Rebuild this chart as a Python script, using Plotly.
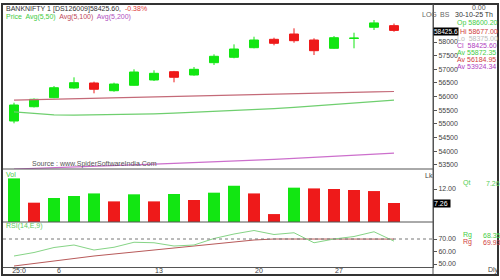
import plotly.graph_objects as go
from plotly.subplots import make_subplots

# ---------------- data ----------------
date_labels = ["25:0", "6", "13", "20", "27"]
date_label_idx = [0, 2, 7, 12, 16]

open_ = [55103, 55627, 55958, 56313, 56497, 56214, 56412, 56607, 56911, 56790,
         57241, 57439, 57791, 58099, 58293, 58073, 57769, 58130, 58540, 58600.2]
high = [55774, 55930, 56387, 56705, 56545, 56508, 56999, 56962, 56940, 57083,
        57549, 57914, 58194, 58158, 58502, 58136, 58220, 58341, 58807, 58677]
low = [55019, 55600, 55940, 56290, 56119, 56178, 56400, 56570, 56522, 56764,
       57157, 57402, 57769, 57879, 57974, 57523, 57750, 57769, 58440, 58375]
close = [55690, 55899, 56324, 56508, 56266, 56460, 56900, 56852, 56706, 56999,
         57476, 57743, 58073, 57952, 58048, 57681, 58158, 58142, 58700, 58425.6]

avg50 = [55440, 55380, 55330, 55320, 55325, 55335, 55345, 55365, 55390, 55420,
         55450, 55480, 55515, 55555, 55600, 55650, 55700, 55750, 55810, 55872.35]
avg100 = [55870, 55885, 55900, 55915, 55930, 55945, 55962, 55978, 55995, 56012,
          56030, 56047, 56065, 56083, 56100, 56117, 56134, 56151, 56168, 56184.95]
avg200 = [53340, 53370, 53400, 53425, 53450, 53475, 53500, 53525, 53550, 53575,
          53600, 53630, 53660, 53695, 53730, 53765, 53800, 53840, 53880, 53924.34]

volume = [15.6, 7.36, 8.95, 9.63, 10.5, 7.8, 10.2, 7.8, 10.3, 8.27,
          10.75, 13.1, 10.5, 3.5, 12.45, 12.2, 12.0, 11.66, 11.3, 7.26]

rsi = [56.4, 59.2, 63.2, 65.2, 61.2, 63.4, 67.4, 67.0, 64.4, 65.2,
       70.4, 74.0, 76.8, 73.6, 75.0, 67.0, 70.0, 72.0, 75.8, 68.3]
rsi_sig = [48.4, 50.4, 52.8, 54.8, 56.4, 58.0, 59.6, 61.2, 62.8, 64.0,
           66.0, 67.6, 69.2, 70.0, 70.0, 69.6, 69.6, 70.0, 70.0, 69.93]

price_ticks = [53500, 54000, 54500, 55000, 55500, 56000, 56500, 57000, 57500, 58000]

# ---------------- styling helpers ----------------
W, H = 500, 280
L, R, T, B = 3, 67, 5, 13
PW, PH = W - L - R, H - T - B


def px(xp):
    return (xp - L) / PW


def py(yp):
    return (H - B - yp) / PH


GREEN = "#12e612"
RED = "#ee1a1a"
FONT = "Liberation Sans, Arial, sans-serif"

x = list(range(len(close)))

fig = make_subplots(rows=3, cols=1, shared_xaxes=True, vertical_spacing=0)

fig.add_trace(go.Candlestick(
    x=x, open=open_, high=high, low=low, close=close,
    increasing=dict(line=dict(color=GREEN, width=1), fillcolor=GREEN),
    decreasing=dict(line=dict(color=RED, width=1), fillcolor=RED),
    whiskerwidth=0, showlegend=False, hoverinfo="skip"), row=1, col=1)

fig.add_trace(go.Scatter(x=x, y=avg100, mode="lines",
                         line=dict(color="#c46a78", width=1.2), showlegend=False), row=1, col=1)
fig.add_trace(go.Scatter(x=x, y=avg50, mode="lines",
                         line=dict(color="#6fcf6f", width=1.2), showlegend=False), row=1, col=1)
fig.add_trace(go.Scatter(x=x, y=avg200, mode="lines",
                         line=dict(color="#cc6fcc", width=1.2), showlegend=False), row=1, col=1)

vol_colors = [GREEN if (i == 0 or volume[i] > volume[i - 1]) else RED for i in range(len(volume))]
fig.add_trace(go.Bar(x=x, y=volume, marker=dict(color=vol_colors, line=dict(width=0)),
                     width=0.6, showlegend=False), row=2, col=1)

fig.add_trace(go.Scatter(x=x, y=rsi_sig, mode="lines",
                         line=dict(color="#b85a5a", width=1), showlegend=False), row=3, col=1)
fig.add_trace(go.Scatter(x=x, y=rsi, mode="lines",
                         line=dict(color="#86d486", width=1), showlegend=False), row=3, col=1)

axis_font = dict(family=FONT, size=7, color="#444")

fig.update_layout(
    width=W, height=H, margin=dict(l=L, r=R, t=T, b=B),
    paper_bgcolor="white", plot_bgcolor="white",
    font=dict(family=FONT, size=7, color="#444"),
    boxgap=0.36, bargap=0.4, showlegend=False,
)

xr = [-(14 - L) / 20, (L + PW - 14) / 20]
for r in (1, 2, 3):
    fig.update_xaxes(range=xr, showgrid=False, zeroline=False, showline=False,
                     rangeslider=dict(visible=False), row=r, col=1)
fig.update_xaxes(tickvals=[i + 0.25 for i in date_label_idx], ticktext=date_labels,
                 ticks="", tickfont=axis_font, showline=True, linecolor="#555",
                 linewidth=1, ticklabelstandoff=-3, row=3, col=1)

fig.update_layout(
    yaxis=dict(domain=[py(169), 1], range=[53343, 59357], side="right",
               tickvals=price_ticks, ticktext=[str(v) for v in price_ticks],
               ticks="outside", ticklen=3, tickcolor="#555", tickfont=axis_font,
               showgrid=False, zeroline=False, showline=True, linecolor="#555", linewidth=1),
    yaxis2=dict(domain=[py(222), py(169)], range=[0.81, 18.78], side="right",
                tickvals=[12], ticktext=["12.00"],
                ticks="outside", ticklen=3, tickcolor="#555", tickfont=axis_font,
                showgrid=False, zeroline=False, showline=True, linecolor="#555", linewidth=1),
    yaxis3=dict(domain=[0, py(222)], range=[47.6, 83.6], side="right",
                tickvals=[50, 60, 70], ticktext=["50.00", "60.00", "70.00"],
                ticks="outside", ticklen=3, tickcolor="#555", tickfont=axis_font,
                showgrid=False, zeroline=False, showline=True, linecolor="#555", linewidth=1),
)

shapes = [
    # outer frame
    dict(type="rect", xref="paper", yref="paper", x0=px(2), x1=px(498), y0=py(275), y1=py(4),
         line=dict(color="#333", width=2)),
    # panel separators
    dict(type="line", xref="paper", yref="paper", x0=0, x1=1, y0=py(169), y1=py(169),
         line=dict(color="#555", width=1)),
    dict(type="line", xref="paper", yref="paper", x0=0, x1=1, y0=py(222), y1=py(222),
         line=dict(color="#555", width=1)),
    dict(type="line", xref="paper", yref="paper", x0=1, x1=1, y0=py(274), y1=py(4),
         line=dict(color="#555", width=1)),
    # RSI 70 reference
    dict(type="line", xref="paper", yref="y3", x0=0, x1=1, y0=70, y1=70,
         line=dict(color="#777", width=1, dash="dot")),
]
fig.update_layout(shapes=shapes)

ann = []


def text(xp, yp, s, color="#444", size=7, anchor="left", bg=None):
    d = dict(xref="paper", yref="paper", x=px(xp), y=py(yp), text=s, showarrow=False,
             xanchor=anchor, yanchor="middle", font=dict(family=FONT, size=size, color=color))
    if bg:
        d["bgcolor"] = bg
        d["borderpad"] = 0
    ann.append(d)


text(4, 9, "BANKNIFTY 1 [DS126009]58425.60,  <span style='color:#e03a3a'>-0.38%</span>", "#333")
text(4, 17, "Price  Avg(5,50)  <span style='color:#c04a5a'>Avg(5,100)</span>  "
            "<span style='color:#b050c0'>Avg(5,200)</span>", "#44cc44")
text(30, 164, "Source : www.SpiderSoftwareIndia.Com", "#555")
text(4, 174, "Vol", "#44cc44")
text(423, 175, "Lk", "#444")
text(4, 226, "RSI(14,E,9)", "#5ccc5c")
text(420, 15, "LOG", "#666")
text(438, 15, "BS", "#666")

# highlighted last-value boxes
text(433, 31, "58425.6", "white", size=6.5, bg="black")
text(433, 203, "7.26 ", "white", bg="black")

# data panel
text(470, 7, "0.00", "#555")
text(453, 15, "30-10-25 Th", "#333")
text(455, 23, "Op 58600.20", "#44cc44")
text(458, 31, "Hi 58677.00", "#d04040")
text(455, 38, "Lo  58375.00", "#bbbbbb")
text(455, 45, "Cl  58425.60", "#b040c0")
text(455, 52, "Av 55872.35", "#44cc44")
text(455, 59, "Av 56184.95", "#d04040")
text(455, 66, "Av 53924.34", "#b040c0")
text(461, 183, "Qt", "#55cc55")
text(484, 183, "7.26", "#55cc55")
text(461, 235, "Rg", "#44cc44")
text(481, 235, "68.35", "#44cc44")
text(461, 242, "Rg", "#d04040")
text(481, 242, "69.93", "#d04040")
text(486, 270, "Dly", "#444")

fig.update_layout(annotations=ann)

fig.write_html("out.html")
